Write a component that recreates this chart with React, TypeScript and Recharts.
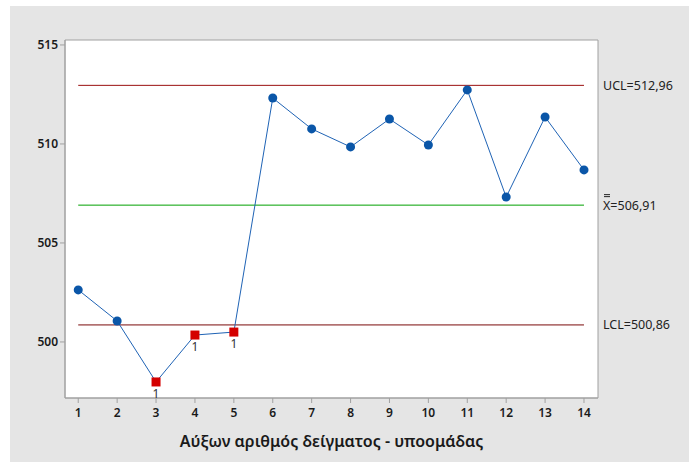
import {
  ComposedChart, Line, XAxis, YAxis, ReferenceLine, ReferenceArea,
} from "recharts";

const samples = [1, 2, 3, 4, 5, 6, 7, 8, 9, 10, 11, 12, 13, 14];
const means = [502.63, 501.06, 497.98, 500.35, 500.5, 512.32, 510.76, 509.85, 511.26, 509.95, 512.73, 507.32, 511.36, 508.69];
const flagged = [3, 4, 5];
const yTicks = [500, 505, 510, 515];

const UCL = 512.96;
const CL = 506.91;
const LCL = 500.86;

const X_DOMAIN: [number, number] = [0.66, 14.36];
const Y_DOMAIN: [number, number] = [497.17, 515.25];

const FONT = "'Noto Sans', 'Open Sans', sans-serif";

const data = samples.map((s, i) => ({ s, v: means[i], flag: flagged.includes(s) }));

function PointDot(props: any) {
  const { cx, cy, payload, index } = props;
  if (cx == null || cy == null) return null;
  if (payload.flag) {
    return (
      <g key={`d-${index}`}>
        <rect x={cx - 4.5} y={cy - 4.5} width={9} height={9} fill="#d40000" />
        <text x={cx} y={cy + 16} textAnchor="middle" fontSize={12} fill="#333" fontFamily={FONT}>1</text>
      </g>
    );
  }
  return <circle key={`d-${index}`} cx={cx} cy={cy} r={4.5} fill="#0a56a8" />;
}

function limitLabel(text: string, bar?: boolean) {
  return (props: any) => {
    const vb = props.viewBox || {};
    const x = (vb.x ?? 0) + (vb.width ?? 0) + 5;
    const y = vb.y ?? 0;
    return (
      <g>
        {bar && (
          <g stroke="#222" strokeWidth={1}>
            <line x1={x + 1} x2={x + 7} y1={y - 8.5} y2={y - 8.5} />
            <line x1={x + 1} x2={x + 7} y1={y - 10.5} y2={y - 10.5} />
          </g>
        )}
        <text x={x} y={y} dy="0.35em" fontSize={12.5} fill="#222" fontFamily={FONT}>{text}</text>
      </g>
    );
  };
}

export default function App() {
  return (
    <div style={{ position: "absolute", left: 10, top: 6, width: 679, height: 456, background: "#e5e5e5" }}>
      <ComposedChart width={679} height={456} data={data}
        margin={{ top: 34, right: 91, left: 0, bottom: 0 }}>
        <XAxis dataKey="s" type="number" domain={X_DOMAIN} ticks={samples} allowDataOverflow
          height={64} interval={0} tickMargin={5}
          tick={{ fill: "#1a1a1a", fontSize: 12, fontWeight: 600, fontFamily: FONT }}
          axisLine={{ stroke: "#a0a0a0" }} tickLine={{ stroke: "#a0a0a0" }} tickSize={5}
          label={{ value: "Αύξων αριθμός δείγματος - υποομάδας", position: "insideBottom", offset: 15,
            fill: "#1a1a1a", fontSize: 16, fontWeight: 600, fontFamily: FONT }} />
        <YAxis type="number" domain={Y_DOMAIN} ticks={yTicks} allowDataOverflow width={55}
          tick={{ fill: "#1a1a1a", fontSize: 12, fontWeight: 600, fontFamily: FONT }}
          axisLine={{ stroke: "#a0a0a0" }} tickLine={{ stroke: "#a0a0a0" }} tickSize={5} />
        <ReferenceArea x1={X_DOMAIN[0]} x2={X_DOMAIN[1]} y1={Y_DOMAIN[0]} y2={Y_DOMAIN[1]}
          fill="#ffffff" fillOpacity={1} stroke="#a0a0a0" strokeWidth={1} />
        <ReferenceLine segment={[{ x: 1, y: UCL }, { x: 14, y: UCL }]} stroke="#9a0f0f" strokeWidth={1} />
        <ReferenceLine segment={[{ x: 1, y: CL }, { x: 14, y: CL }]} stroke="#00a000" strokeWidth={1} />
        <ReferenceLine segment={[{ x: 1, y: LCL }, { x: 14, y: LCL }]} stroke="#7a0a0a" strokeWidth={1} />
        <ReferenceLine y={UCL} strokeOpacity={0} label={limitLabel("UCL=512,96")} />
        <ReferenceLine y={CL} strokeOpacity={0} label={limitLabel("X=506,91", true)} />
        <ReferenceLine y={LCL} strokeOpacity={0} label={limitLabel("LCL=500,86")} />
        <Line type="linear" dataKey="v" stroke="#1f63b5" strokeWidth={1}
          dot={PointDot} activeDot={false} isAnimationActive={false} />
      </ComposedChart>
    </div>
  );
}
